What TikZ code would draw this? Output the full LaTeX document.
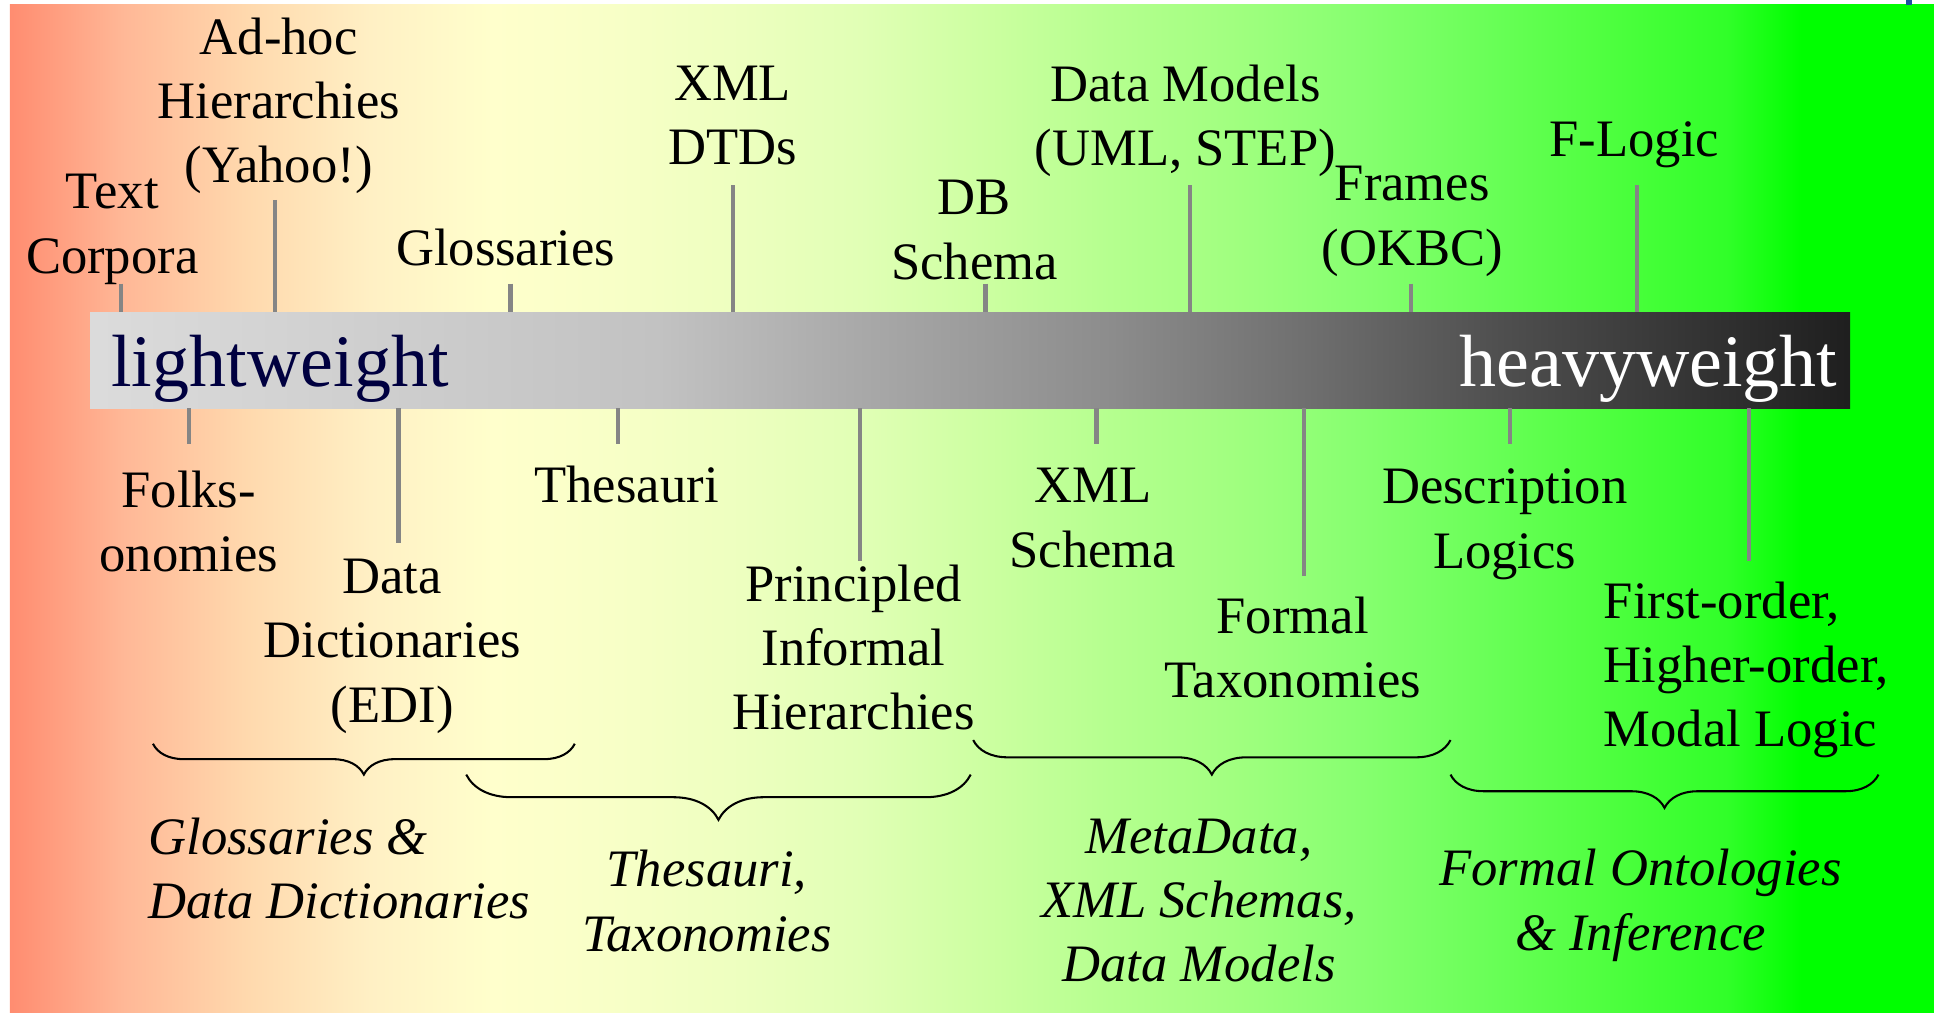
\documentclass[tikz,border=0pt]{standalone}
\usepackage{fontspec}
\setmainfont{Liberation Serif}
\usetikzlibrary{decorations.pathreplacing}

% background colour ramp: salmon -> pale yellow -> green
\pgfdeclarehorizontalshading{spectrum}{100bp}{%
  rgb(0bp)=(1,.55,.44); rgb(25bp)=(1,.55,.44);
  rgb(27.95bp)=(1,.72,.59); rgb(31.15bp)=(1,.85,.68);
  rgb(34.36bp)=(1,.94,.77); rgb(37.56bp)=(1,1,.80);
  rgb(40.77bp)=(.97,1,.78); rgb(43.97bp)=(.93,1,.75);
  rgb(47.18bp)=(.88,1,.71); rgb(50.38bp)=(.80,1,.63);
  rgb(53.59bp)=(.71,1,.56); rgb(56.79bp)=(.63,1,.50);
  rgb(60bp)=(.53,1,.44); rgb(63.21bp)=(.42,1,.35);
  rgb(66.41bp)=(.31,1,.25); rgb(69.62bp)=(.19,1,.16);
  rgb(71.54bp)=(0,1,0); rgb(75bp)=(0,1,0); rgb(100bp)=(0,1,0)}

% weight bar: light grey -> near black
\pgfdeclarehorizontalshading{weightbar}{100bp}{%
  rgb(0bp)=(.86,.86,.86); rgb(25bp)=(.86,.86,.86);
  rgb(41.19bp)=(.76,.76,.76); rgb(46.97bp)=(.66,.66,.66);
  rgb(53.98bp)=(.55,.55,.55); rgb(59.37bp)=(.44,.44,.44);
  rgb(65.05bp)=(.31,.31,.31); rgb(75bp)=(.12,.12,.12);
  rgb(100bp)=(.12,.12,.12)}

\definecolor{tickgray}{RGB}{133,133,133}
\definecolor{navy}{RGB}{0,0,64}
\definecolor{markblue}{RGB}{30,80,160}

\tikzset{
  lbl/.style={font=\fontsize{25.6}{31.2}\selectfont, align=center, inner sep=0pt},
  grp/.style={font=\fontsize{25.6}{31.2}\selectfont\itshape, align=center, inner sep=0pt},
  barlbl/.style={font=\fontsize{36}{40}\selectfont, inner sep=0pt},
  tick/.style={draw=tickgray, line width=2.1pt},
  curly/.style={draw=black, line width=1pt, decorate,
    decoration={brace, mirror, amplitude=#1}},
}

\begin{document}
\begin{tikzpicture}[x=0.6pt, y=-0.6pt]
\useasboundingbox (0,0) rectangle (1568,821);

% background
\shade[shading=spectrum] (8,4) rectangle (1568,821);
\fill[markblue] (1545,0) rectangle (1550,4);

% the weight bar
\shade[shading=weightbar] (73,253) rectangle (1500,331);
\coordinate (barTop) at (0,253);
\coordinate (barBot) at (0,331);
\node[barlbl, text=navy, anchor=base west] (light) at (90,313) {lightweight};
\node[barlbl, text=white, anchor=base east] (heavy) at (1490,313) {heavyweight};

% labels above the bar
\node[lbl] (corpora) at (91,186) {Text\\Corpora};
\node[lbl] (adhoc) at (226,86) {Ad-hoc\\Hierarchies\\(Yahoo!)};
\node[lbl] (gloss) at (410,201) {Glossaries};
\node[lbl] (dtd) at (594,94) {XML\\DTDs};
\node[lbl] (db) at (790,186.5) {DB\\Schema};
\node[lbl] (models) at (961,98) {Data Models\\(UML, STEP)};
\node[lbl] (frames) at (1145,179.5) {Frames\\(OKBC)};
\node[lbl] (flogic) at (1325,117) {F-Logic};

\coordinate (corporaT) at (98,230);
\coordinate (adhocT) at (223,162);
\coordinate (glossT) at (414,230);
\coordinate (dtdT) at (594,150);
\coordinate (dbT) at (799,230);
\coordinate (modelsT) at (965,150);
\coordinate (framesT) at (1144,230);
\coordinate (flogicT) at (1327,150);
\foreach \t in {corporaT,adhocT,glossT,dtdT,dbT,modelsT,framesT,flogicT}
  \draw[tick] (\t) -- (\t |- barTop);

% labels below the bar
\node[lbl] (folks) at (153,423) {Folks-\\onomies};
\node[lbl] (dict) at (318,524) {Data\\Dictionaries\\(EDI)};
\node[lbl] (thes) at (508,393) {Thesauri};
\node[lbl] (princ) at (692,525) {Principled\\Informal\\Hierarchies};
\node[lbl] (xsd) at (886,420) {XML\\Schema};
\node[lbl] (tax) at (1048,525) {Formal\\Taxonomies};
\node[lbl] (dl) at (1220,425) {Description\\Logics};
\node[lbl, align=left, anchor=west] (fol) at (1300,543) {First-order,\\Higher-order,\\Modal Logic};

\coordinate (folksT) at (153,360);
\coordinate (dictT) at (323,440);
\coordinate (thesT) at (501,360);
\coordinate (princT) at (697,455);
\coordinate (xsdT) at (889,360);
\coordinate (taxT) at (1057,467);
\coordinate (dlT) at (1224,360);
\coordinate (folT) at (1418,455);
\foreach \t in {folksT,dictT,thesT,princT,xsdT,taxT,dlT,folT}
  \draw[tick] (\t |- barBot) -- (\t);

% group braces
\coordinate (b1L) at (124,603);  \coordinate (b1R) at (466,603);
\coordinate (b2L) at (378,628);  \coordinate (b2R) at (787,628);
\coordinate (b3L) at (789,600);  \coordinate (b3R) at (1176,600);
\coordinate (b4L) at (1176,628); \coordinate (b4R) at (1523,628);
\draw[curly=15pt] (b1L) -- (b1R);
\draw[curly=22pt] (b2L) -- (b2R);
\draw[curly=16.8pt] (b3L) -- (b3R);
\draw[curly=16.2pt] (b4L) -- (b4R);

% group names
\node[grp, align=left, anchor=west] (g1) at (120,704) {Glossaries \&\\Data Dictionaries};
\node[grp] (g2) at (573,730.5) {Thesauri,\\Taxonomies};
\node[grp] (g3) at (972,730) {MetaData,\\XML Schemas,\\Data Models};
\node[grp] (g4) at (1330,734) {Formal Ontologies\\\& Inference};
\end{tikzpicture}
\end{document}
